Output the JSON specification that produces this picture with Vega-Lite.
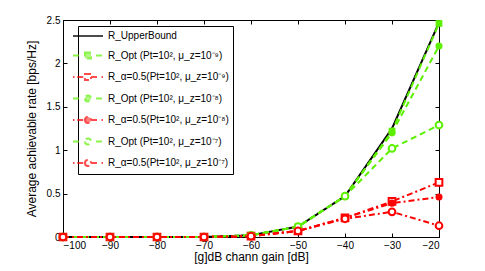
{
  "$schema": "https://vega.github.io/schema/vega-lite/v6.json",
  "width": 376,
  "height": 217,
  "autosize": {"type": "none"},
  "padding": {"left": 63, "top": 20, "right": 46, "bottom": 34},
  "background": "white",
  "config": {
    "view": {"stroke": "black", "strokeWidth": 1},
    "font": "Liberation Sans",
    "axis": {
      "grid": false,
      "domainColor": "black",
      "tickColor": "black",
      "labelColor": "black",
      "titleColor": "black",
      "labelFont": "Liberation Sans",
      "titleFont": "Liberation Sans",
      "labelFontSize": 10,
      "titleFontSize": 12,
      "titleFontWeight": "normal",
      "tickSize": -4,
      "labelPadding": 7
    }
  },
  "datasets": {
    "main": [
      {"series": "R_UpperBound", "x": -100, "y": 0},
      {"series": "R_UpperBound", "x": -90, "y": 0},
      {"series": "R_UpperBound", "x": -80, "y": 0},
      {"series": "R_UpperBound", "x": -70, "y": 0},
      {"series": "R_UpperBound", "x": -60, "y": 0.02},
      {"series": "R_UpperBound", "x": -50, "y": 0.12},
      {"series": "R_UpperBound", "x": -40, "y": 0.47},
      {"series": "R_UpperBound", "x": -30, "y": 1.25},
      {"series": "R_UpperBound", "x": -20, "y": 2.47},
      {"series": "R_Opt (Pt=10², μ_z=10⁻⁹)", "x": -100, "y": 0},
      {"series": "R_Opt (Pt=10², μ_z=10⁻⁹)", "x": -90, "y": 0},
      {"series": "R_Opt (Pt=10², μ_z=10⁻⁹)", "x": -80, "y": 0},
      {"series": "R_Opt (Pt=10², μ_z=10⁻⁹)", "x": -70, "y": 0},
      {"series": "R_Opt (Pt=10², μ_z=10⁻⁹)", "x": -60, "y": 0.02},
      {"series": "R_Opt (Pt=10², μ_z=10⁻⁹)", "x": -50, "y": 0.12},
      {"series": "R_Opt (Pt=10², μ_z=10⁻⁹)", "x": -40, "y": 0.47},
      {"series": "R_Opt (Pt=10², μ_z=10⁻⁹)", "x": -30, "y": 1.22},
      {"series": "R_Opt (Pt=10², μ_z=10⁻⁹)", "x": -20, "y": 2.46},
      {"series": "R_α=0.5(Pt=10², μ_z=10⁻⁹)", "x": -100, "y": 0},
      {"series": "R_α=0.5(Pt=10², μ_z=10⁻⁹)", "x": -90, "y": 0},
      {"series": "R_α=0.5(Pt=10², μ_z=10⁻⁹)", "x": -80, "y": 0},
      {"series": "R_α=0.5(Pt=10², μ_z=10⁻⁹)", "x": -70, "y": 0},
      {"series": "R_α=0.5(Pt=10², μ_z=10⁻⁹)", "x": -60, "y": 0.01},
      {"series": "R_α=0.5(Pt=10², μ_z=10⁻⁹)", "x": -50, "y": 0.07},
      {"series": "R_α=0.5(Pt=10², μ_z=10⁻⁹)", "x": -40, "y": 0.22},
      {"series": "R_α=0.5(Pt=10², μ_z=10⁻⁹)", "x": -30, "y": 0.41},
      {"series": "R_α=0.5(Pt=10², μ_z=10⁻⁹)", "x": -20, "y": 0.63},
      {"series": "R_Opt (Pt=10², μ_z=10⁻⁸)", "x": -100, "y": 0},
      {"series": "R_Opt (Pt=10², μ_z=10⁻⁸)", "x": -90, "y": 0},
      {"series": "R_Opt (Pt=10², μ_z=10⁻⁸)", "x": -80, "y": 0},
      {"series": "R_Opt (Pt=10², μ_z=10⁻⁸)", "x": -70, "y": 0},
      {"series": "R_Opt (Pt=10², μ_z=10⁻⁸)", "x": -60, "y": 0.02},
      {"series": "R_Opt (Pt=10², μ_z=10⁻⁸)", "x": -50, "y": 0.12},
      {"series": "R_Opt (Pt=10², μ_z=10⁻⁸)", "x": -40, "y": 0.47},
      {"series": "R_Opt (Pt=10², μ_z=10⁻⁸)", "x": -30, "y": 1.2},
      {"series": "R_Opt (Pt=10², μ_z=10⁻⁸)", "x": -20, "y": 2.2},
      {"series": "R_α=0.5(Pt=10², μ_z=10⁻⁸)", "x": -100, "y": 0},
      {"series": "R_α=0.5(Pt=10², μ_z=10⁻⁸)", "x": -90, "y": 0},
      {"series": "R_α=0.5(Pt=10², μ_z=10⁻⁸)", "x": -80, "y": 0},
      {"series": "R_α=0.5(Pt=10², μ_z=10⁻⁸)", "x": -70, "y": 0},
      {"series": "R_α=0.5(Pt=10², μ_z=10⁻⁸)", "x": -60, "y": 0.01},
      {"series": "R_α=0.5(Pt=10², μ_z=10⁻⁸)", "x": -50, "y": 0.07},
      {"series": "R_α=0.5(Pt=10², μ_z=10⁻⁸)", "x": -40, "y": 0.22},
      {"series": "R_α=0.5(Pt=10², μ_z=10⁻⁸)", "x": -30, "y": 0.39},
      {"series": "R_α=0.5(Pt=10², μ_z=10⁻⁸)", "x": -20, "y": 0.46},
      {"series": "R_Opt (Pt=10², μ_z=10⁻⁷)", "x": -100, "y": 0},
      {"series": "R_Opt (Pt=10², μ_z=10⁻⁷)", "x": -90, "y": 0},
      {"series": "R_Opt (Pt=10², μ_z=10⁻⁷)", "x": -80, "y": 0},
      {"series": "R_Opt (Pt=10², μ_z=10⁻⁷)", "x": -70, "y": 0},
      {"series": "R_Opt (Pt=10², μ_z=10⁻⁷)", "x": -60, "y": 0.02},
      {"series": "R_Opt (Pt=10², μ_z=10⁻⁷)", "x": -50, "y": 0.12},
      {"series": "R_Opt (Pt=10², μ_z=10⁻⁷)", "x": -40, "y": 0.47},
      {"series": "R_Opt (Pt=10², μ_z=10⁻⁷)", "x": -30, "y": 1.02},
      {"series": "R_Opt (Pt=10², μ_z=10⁻⁷)", "x": -20, "y": 1.29},
      {"series": "R_α=0.5(Pt=10², μ_z=10⁻⁷)", "x": -100, "y": 0},
      {"series": "R_α=0.5(Pt=10², μ_z=10⁻⁷)", "x": -90, "y": 0},
      {"series": "R_α=0.5(Pt=10², μ_z=10⁻⁷)", "x": -80, "y": 0},
      {"series": "R_α=0.5(Pt=10², μ_z=10⁻⁷)", "x": -70, "y": 0},
      {"series": "R_α=0.5(Pt=10², μ_z=10⁻⁷)", "x": -60, "y": 0.01},
      {"series": "R_α=0.5(Pt=10², μ_z=10⁻⁷)", "x": -50, "y": 0.07},
      {"series": "R_α=0.5(Pt=10², μ_z=10⁻⁷)", "x": -40, "y": 0.21},
      {"series": "R_α=0.5(Pt=10², μ_z=10⁻⁷)", "x": -30, "y": 0.29},
      {"series": "R_α=0.5(Pt=10², μ_z=10⁻⁷)", "x": -20, "y": 0.13}
    ]
  },
  "resolve": {"axis": {"x": "independent", "y": "independent"}},
  "layer": [
    {
      "data": {"values": []},
      "mark": {"type": "point", "strokeWidth": 2},
      "encoding": {
        "shape": {
          "field": "series", "type": "nominal",
          "scale": {
            "domain": ["R_UpperBound", "R_Opt (Pt=10², μ_z=10⁻⁹)", "R_α=0.5(Pt=10², μ_z=10⁻⁹)", "R_Opt (Pt=10², μ_z=10⁻⁸)", "R_α=0.5(Pt=10², μ_z=10⁻⁸)", "R_Opt (Pt=10², μ_z=10⁻⁷)", "R_α=0.5(Pt=10², μ_z=10⁻⁷)"],
            "range": [
              "M-3,0H3",
              "M-3,0H-1.6M-0.6,-0.6H0.6V0.6H-0.6ZM1.6,0H3",
              "M-3,0H-2.7M-2.15,0H-0.6M-0.6,-0.6H0.6V0.6H-0.6ZM0.6,0H2.15M2.7,0H3",
              "M-3,0H-1.6M-0.6,0A0.6,0.6 0 1,0 0.6,0A0.6,0.6 0 1,0 -0.6,0ZM1.6,0H3",
              "M-3,0H-2.7M-2.15,0H-0.6M-0.6,0A0.6,0.6 0 1,0 0.6,0A0.6,0.6 0 1,0 -0.6,0ZM0.6,0H2.15M2.7,0H3",
              "M-3,0H-1.6M-0.6,0A0.6,0.6 0 1,0 0.6,0A0.6,0.6 0 1,0 -0.6,0ZM1.6,0H3",
              "M-3,0H-2.7M-2.15,0H-0.6M-0.6,0A0.6,0.6 0 1,0 0.6,0A0.6,0.6 0 1,0 -0.6,0ZM0.6,0H2.15M2.7,0H3"
            ]
          },
          "legend": {
            "title": null, "orient": "none", "legendX": 15, "legendY": 6,
            "strokeColor": "black", "fillColor": "white", "padding": 4,
            "symbolSize": 100, "symbolStrokeWidth": 2, "labelFontSize": 10,
            "labelFont": "Liberation Sans", "labelColor": "black", "rowPadding": 7.5, "labelOffset": 14
          }
        },
        "stroke": {
          "field": "series", "type": "nominal",
          "scale": {
            "domain": ["R_UpperBound", "R_Opt (Pt=10², μ_z=10⁻⁹)", "R_α=0.5(Pt=10², μ_z=10⁻⁹)", "R_Opt (Pt=10², μ_z=10⁻⁸)", "R_α=0.5(Pt=10², μ_z=10⁻⁸)", "R_Opt (Pt=10², μ_z=10⁻⁷)", "R_α=0.5(Pt=10², μ_z=10⁻⁷)"],
            "range": ["black", "#5cf000", "#ff0000", "#5cf000", "#ff0000", "#5cf000", "#ff0000"]
          },
          "legend": {
            "title": null, "orient": "none", "legendX": 15, "legendY": 6,
            "strokeColor": "black", "fillColor": "white", "padding": 4,
            "symbolSize": 100, "symbolStrokeWidth": 2, "labelFontSize": 10,
            "labelFont": "Liberation Sans", "labelColor": "black", "rowPadding": 7.5, "labelOffset": 14
          }
        },
        "fill": {
          "field": "series", "type": "nominal",
          "scale": {
            "domain": ["R_UpperBound", "R_Opt (Pt=10², μ_z=10⁻⁹)", "R_α=0.5(Pt=10², μ_z=10⁻⁹)", "R_Opt (Pt=10², μ_z=10⁻⁸)", "R_α=0.5(Pt=10², μ_z=10⁻⁸)", "R_Opt (Pt=10², μ_z=10⁻⁷)", "R_α=0.5(Pt=10², μ_z=10⁻⁷)"],
            "range": ["black", "#5cf000", "white", "#5cf000", "#ff0000", "white", "white"]
          },
          "legend": {
            "title": null, "orient": "none", "legendX": 15, "legendY": 6,
            "strokeColor": "black", "fillColor": "white", "padding": 4,
            "symbolSize": 100, "symbolStrokeWidth": 2, "labelFontSize": 10,
            "labelFont": "Liberation Sans", "labelColor": "black", "rowPadding": 7.5, "labelOffset": 14
          }
        }
      }
    },
    {
      "data": {"name": "main"},
      "mark": {"type": "line", "strokeWidth": 2},
      "encoding": {
        "x": {"field": "x", "type": "quantitative",
          "scale": {"domain": [-100, -20], "nice": false, "zero": false},
          "axis": {"orient": "bottom", "values": [-100, -90, -80, -70, -60, -50, -40, -30, -20], "title": "[g]dB chann gain [dB]", "titlePadding": 1}},
        "y": {"field": "y", "type": "quantitative",
          "scale": {"domain": [0, 2.5], "nice": false},
          "axis": {"orient": "left", "values": [0, 0.5, 1, 1.5, 2, 2.5], "format": "~g", "title": "Average achievable rate [bps/Hz]", "titlePadding": 8}},
        "color": {"field": "series", "type": "nominal", "legend": null,
          "scale": {
            "domain": ["R_UpperBound", "R_Opt (Pt=10², μ_z=10⁻⁹)", "R_α=0.5(Pt=10², μ_z=10⁻⁹)", "R_Opt (Pt=10², μ_z=10⁻⁸)", "R_α=0.5(Pt=10², μ_z=10⁻⁸)", "R_Opt (Pt=10², μ_z=10⁻⁷)", "R_α=0.5(Pt=10², μ_z=10⁻⁷)"],
            "range": ["black", "#5cf000", "#ff0000", "#5cf000", "#ff0000", "#5cf000", "#ff0000"]
          }},
        "strokeDash": {"field": "series", "type": "nominal", "legend": null,
          "scale": {
            "domain": ["R_UpperBound", "R_Opt (Pt=10², μ_z=10⁻⁹)", "R_α=0.5(Pt=10², μ_z=10⁻⁹)", "R_Opt (Pt=10², μ_z=10⁻⁸)", "R_α=0.5(Pt=10², μ_z=10⁻⁸)", "R_Opt (Pt=10², μ_z=10⁻⁷)", "R_α=0.5(Pt=10², μ_z=10⁻⁷)"],
            "range": [[1, 0], [6, 4], [6, 3, 2, 3], [6, 4], [6, 3, 2, 3], [6, 4], [6, 3, 2, 3]]
          }}
      }
    },
    {
      "data": {"name": "main"},
      "transform": [{"filter": {"field": "series", "oneOf": ["R_Opt (Pt=10², μ_z=10⁻⁹)"]}}],
      "mark": {"type": "point", "shape": "square", "filled": true, "size": 45, "opacity": 1},
      "encoding": {
        "x": {"field": "x", "type": "quantitative", "axis": null},
        "y": {"field": "y", "type": "quantitative", "axis": null},
        "color": {"field": "series", "type": "nominal", "legend": null}
      }
    },
    {
      "data": {"name": "main"},
      "transform": [{"filter": {"field": "series", "oneOf": ["R_α=0.5(Pt=10², μ_z=10⁻⁹)"]}}],
      "mark": {"type": "point", "shape": "square", "filled": false, "fill": "white", "size": 45, "strokeWidth": 2, "opacity": 1},
      "encoding": {
        "x": {"field": "x", "type": "quantitative", "axis": null},
        "y": {"field": "y", "type": "quantitative", "axis": null},
        "color": {"field": "series", "type": "nominal", "legend": null}
      }
    },
    {
      "data": {"name": "main"},
      "transform": [{"filter": {"field": "series", "oneOf": ["R_Opt (Pt=10², μ_z=10⁻⁸)", "R_α=0.5(Pt=10², μ_z=10⁻⁸)"]}}],
      "mark": {"type": "point", "shape": "circle", "filled": true, "size": 50, "opacity": 1},
      "encoding": {
        "x": {"field": "x", "type": "quantitative", "axis": null},
        "y": {"field": "y", "type": "quantitative", "axis": null},
        "color": {"field": "series", "type": "nominal", "legend": null}
      }
    },
    {
      "data": {"name": "main"},
      "transform": [{"filter": {"field": "series", "oneOf": ["R_Opt (Pt=10², μ_z=10⁻⁷)", "R_α=0.5(Pt=10², μ_z=10⁻⁷)"]}}],
      "mark": {"type": "point", "shape": "circle", "filled": false, "fill": "white", "size": 45, "strokeWidth": 2, "opacity": 1},
      "encoding": {
        "x": {"field": "x", "type": "quantitative", "axis": null},
        "y": {"field": "y", "type": "quantitative", "axis": null},
        "color": {"field": "series", "type": "nominal", "legend": null}
      }
    },
    {
      "data": {"name": "main"},
      "mark": {"type": "point", "opacity": 0},
      "encoding": {
        "x": {"field": "x", "type": "quantitative",
          "axis": {"orient": "top", "values": [-100, -90, -80, -70, -60, -50, -40, -30, -20], "labels": false, "title": null, "domain": false}},
        "y": {"field": "y", "type": "quantitative",
          "axis": {"orient": "right", "values": [0, 0.5, 1, 1.5, 2, 2.5], "labels": false, "title": null, "domain": false}}
      }
    }
  ]
}
